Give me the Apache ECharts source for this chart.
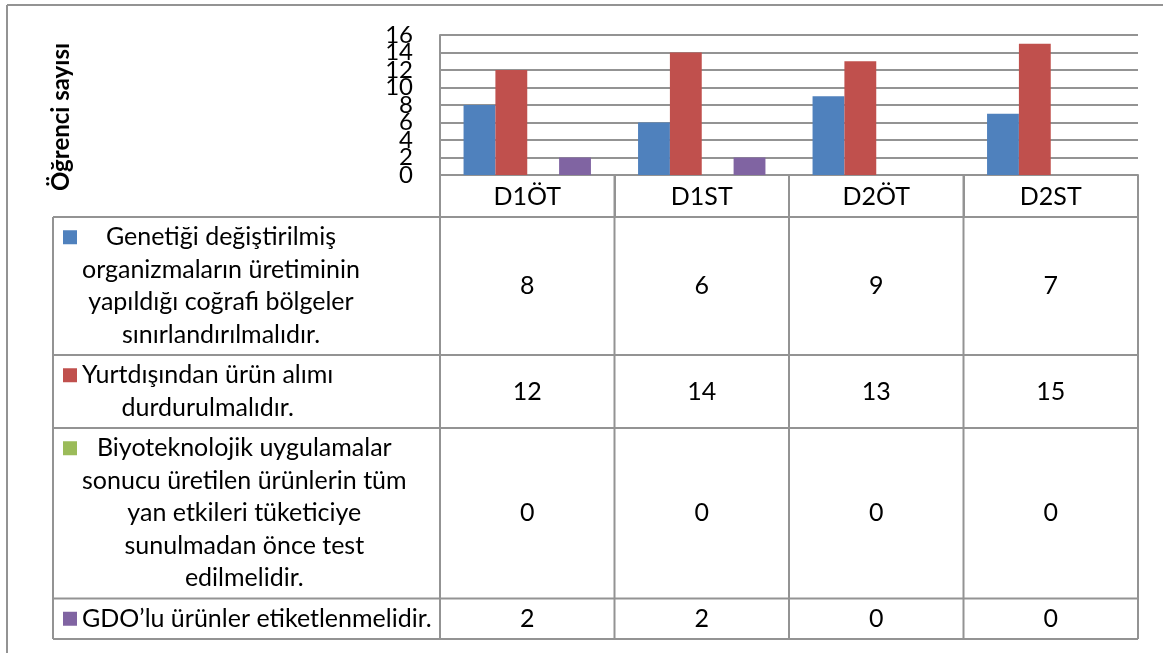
<!DOCTYPE html>
<html>
<head>
<meta charset="utf-8">
<title>Öğrenci sayısı</title>
<script src="https://cdn.jsdelivr.net/npm/echarts@6/dist/echarts.min.js"></script>
<style>
  html, body { margin: 0; padding: 0; background: #fff; }
  #chart { width: 1163px; height: 653px; }
</style>
</head>
<body>
<div id="chart"></div>
<script>
// ---- data ----
const categories = ['D1ÖT', 'D1ST', 'D2ÖT', 'D2ST'];
const seriesNames = [
  'Genetiği değiştirilmiş\norganizmaların üretiminin\nyapıldığı coğrafi bölgeler\nsınırlandırılmalıdır.',
  'Yurtdışından ürün alımı\ndurdurulmalıdır.',
  'Biyoteknolojik uygulamalar\nsonucu üretilen ürünlerin tüm\nyan etkileri tüketiciye\nsunulmadan önce test\nedilmelidir.',
  'GDO’lu ürünler etiketlenmelidir.'
];
const regionLimits = [8, 6, 9, 7];
const importStop = [12, 14, 13, 15];
const sideEffectTests = [0, 0, 0, 0];
const gmoLabelling = [2, 2, 0, 0];
const yTickLabels = ['0', '2', '4', '6', '8', '10', '12', '14', '16'];
const axisTitle = 'Öğrenci sayısı';
const yMin = 0, yMax = 16, yStep = 2;

// ---- styling ----
const seriesValues = [regionLimits, importStop, sideEffectTests, gmoLabelling];
const colors = ['#4F81BD', '#C0504D', '#9BBB59', '#8064A2'];
const FONT = 'Lato, "Open Sans", sans-serif';
const TXT = 25;           // table text size
const LINE = 32.5;        // table line height
const PAD = 8;            // extra height per table row
const CAT_ROW = 42;       // category row height
const GRID = '#939393';
const LW = 2;
const PLOT_LEFT = 440;

const chart = echarts.init(document.getElementById('chart'), null, { renderer: 'canvas' });

const option = {
  animation: false,
  backgroundColor: '#ffffff',
  grid: { left: PLOT_LEFT, right: 25, top: 35, height: 140, containLabel: false },
  xAxis: {
    type: 'category',
    data: categories,
    boundaryGap: true,
    axisLine: { show: true, lineStyle: { color: GRID, width: LW } },
    axisTick: { show: true, inside: false, length: CAT_ROW, lineStyle: { color: GRID, width: LW } },
    axisLabel: { color: '#000', fontSize: TXT, fontFamily: FONT, margin: 9 }
  },
  yAxis: {
    type: 'value',
    min: yMin, max: yMax, interval: yStep,
    axisLine: { show: true, lineStyle: { color: GRID, width: LW } },
    axisTick: { show: false },
    splitLine: { show: true, lineStyle: { color: GRID, width: LW } },
    // tick labels sit closer than their own height, so they are placed below
    axisLabel: { show: false }
  },
  series: seriesValues.map((vals, i) => ({
    type: 'bar',
    name: seriesNames[i],
    data: vals,
    barGap: '0%',
    barCategoryGap: '27%',
    itemStyle: { color: colors[i] }
  }))
};
chart.setOption(option);

const graphics = [];
const line = (x1, y1, x2, y2) => graphics.push({
  type: 'line', silent: true,
  shape: { x1, y1, x2, y2 },
  style: { stroke: GRID, lineWidth: LW }
});

// ---- value-axis tick labels (allowed to overlap) ----
yTickLabels.forEach(t => {
  graphics.push({
    type: 'text', silent: true,
    x: PLOT_LEFT - 27, y: chart.convertToPixel({ yAxisIndex: 0 }, Number(t)),
    style: {
      text: t, fill: '#000', fontSize: 24, fontFamily: FONT,
      align: 'right', verticalAlign: 'middle'
    }
  });
});

// ---- data table under the axis, aligned to the category scale ----
const ctx = document.createElement('canvas').getContext('2d');
ctx.font = TXT + 'px ' + FONT;

const centers = categories.map((_, i) => chart.convertToPixel({ xAxisIndex: 0 }, i));
const step = centers[1] - centers[0];
const colEdges = centers.map(c => c - step / 2).concat([centers[centers.length - 1] + step / 2]);
const zeroY = chart.convertToPixel({ yAxisIndex: 0 }, 0);
const tableLeft = 53;
const tableTop = zeroY + CAT_ROW;
const right = colEdges[colEdges.length - 1];

let y = tableTop;
const rowTops = [];
seriesNames.forEach((name, i) => {
  const lines = name.split('\n');
  const h = lines.length * LINE + PAD;
  rowTops.push([y, h]);
  // legend key
  graphics.push({
    type: 'rect', silent: true,
    shape: { x: 63, y: y + PAD / 2 + LINE / 2 - 7, width: 14, height: 14 },
    style: { fill: colors[i] }
  });
  // series name, lines centred within the widest line
  const w = Math.max(...lines.map(l => ctx.measureText(l).width));
  graphics.push({
    type: 'text', silent: true,
    x: 82 + w / 2, y: y + h / 2,
    style: {
      text: name, fill: '#000', fontSize: TXT, fontFamily: FONT,
      align: 'center', verticalAlign: 'middle', lineHeight: LINE
    }
  });
  // values
  seriesValues[i].forEach((v, j) => {
    graphics.push({
      type: 'text', silent: true,
      x: centers[j], y: y + h / 2,
      style: {
        text: String(v), fill: '#000', fontSize: TXT, fontFamily: FONT,
        align: 'center', verticalAlign: 'middle'
      }
    });
  });
  y += h;
});
const tableBottom = y;

// horizontal rules
line(tableLeft, tableTop, right, tableTop);
rowTops.forEach(([t, h]) => line(tableLeft, t + h, right, t + h));
// vertical rules
line(tableLeft, tableTop, tableLeft, tableBottom);
colEdges.forEach(x => line(x, zeroY, x, tableBottom));

// axis title
graphics.push({
  type: 'text', silent: true,
  x: 61, y: 117, rotation: Math.PI / 2,
  style: {
    text: axisTitle, fill: '#000', fontSize: 24, fontWeight: 'bold', fontFamily: FONT,
    align: 'center', verticalAlign: 'middle'
  }
});

// outer frame (left and top edges)
line(7, 5, 1163, 5);
line(7, 5, 7, 653);

chart.setOption({ graphic: graphics });
</script>
</body>
</html>
